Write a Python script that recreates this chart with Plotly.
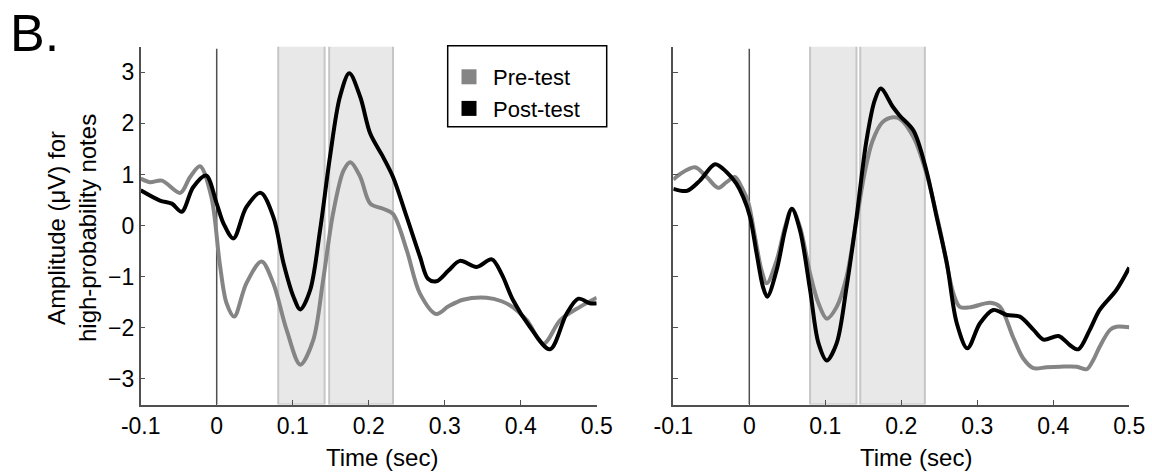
import plotly.graph_objects as go

# ---------------- data ----------------
X_TICKS = [-0.1, 0, 0.1, 0.2, 0.3, 0.4, 0.5]
X_TICK_LABELS = ["-0.1", "0", "0.1", "0.2", "0.3", "0.4", "0.5"]
Y_TICKS = [-3, -2, -1, 0, 1, 2, 3]
Y_TICK_LABELS = ["\u22123", "\u22122", "\u22121", "0", "1", "2", "3"]

SERIES_NAMES = ["Pre-test", "Post-test"]

# Left panel, pre-test (grey)
L_PRE_T = [-0.1, -0.088, -0.072, -0.048, -0.035, -0.022, -0.007, 0.004, 0.013, 0.023, 0.039,
           0.059, 0.0745, 0.092, 0.110, 0.127, 0.140, 0.153, 0.167, 0.176, 0.189, 0.202,
           0.219, 0.232, 0.25, 0.2675, 0.289, 0.305, 0.324, 0.355, 0.375, 0.39, 0.408,
           0.43, 0.452, 0.478, 0.5]
L_PRE_V = [0.92, 0.85, 0.88, 0.64, 0.95, 1.16, 0.56, -0.74, -1.52, -1.78, -1.13,
           -0.70, -1.13, -2.04, -2.72, -2.24, -1.07, 0.23, 1.08, 1.24, 0.95, 0.43,
           0.33, 0.23, -0.48, -1.33, -1.73, -1.58, -1.45, -1.41, -1.48, -1.60, -1.85,
           -2.31, -1.85, -1.59, -1.41]

# Left panel, post-test (black)
L_POST_T = [-0.1, -0.0746, -0.059, -0.046, -0.031, -0.014, 0.0, 0.009, 0.022, 0.039, 0.058,
            0.0745, 0.088, 0.101, 0.110, 0.123, 0.136, 0.149, 0.162, 0.1745, 0.189, 0.202,
            0.219, 0.232, 0.25, 0.2675, 0.278, 0.289, 0.305, 0.320, 0.342, 0.362, 0.375,
            0.390, 0.412, 0.4385, 0.4605, 0.476, 0.491, 0.5]
L_POST_V = [0.69, 0.49, 0.43, 0.27, 0.75, 0.98, 0.43, 0.04, -0.25, 0.36, 0.64,
            0.17, -0.74, -1.39, -1.64, -1.26, -0.09, 1.34, 2.51, 2.98, 2.51, 1.80,
            1.34, 0.95, 0.17, -0.61, -1.04, -1.09, -0.88, -0.69, -0.81, -0.66, -0.95,
            -1.46, -1.98, -2.42, -1.72, -1.43, -1.52, -1.52]

# Right panel, pre-test (grey)
R_PRE_T = [-0.1, -0.091, -0.0715, -0.056, -0.041, -0.030, -0.019, -0.010, -0.001, 0.0075,
           0.016, 0.023, 0.036, 0.047, 0.056, 0.0667, 0.080, 0.091, 0.102, 0.115, 0.128,
           0.141, 0.152, 0.162, 0.175, 0.189, 0.198, 0.216, 0.233, 0.251, 0.2686, 0.277,
           0.290, 0.317, 0.33, 0.347, 0.3605, 0.374, 0.391, 0.409, 0.431, 0.444, 0.4526,
           0.461, 0.4746, 0.483, 0.5]
R_PRE_V = [0.90, 1.01, 1.14, 0.95, 0.74, 0.85, 0.95, 0.75, 0.43, -0.22,
           -0.87, -1.13, -0.68, -0.03, 0.33, -0.03, -0.94, -1.52, -1.82, -1.59, -1.00,
           0.10, 1.05, 1.65, 2.02, 2.12, 2.09, 1.73, 1.02, -0.09, -1.33, -1.59,
           -1.60, -1.51, -1.59, -2.18, -2.60, -2.79, -2.77, -2.76, -2.76, -2.81, -2.63,
           -2.37, -2.04, -1.98, -1.99]

# Right panel, post-test (black)
R_POST_T = [-0.1, -0.082, -0.065, -0.045, -0.030, -0.017, -0.008, 0.001, 0.0097, 0.018,
            0.0237, 0.036, 0.047, 0.056, 0.0667, 0.080, 0.091, 0.102, 0.115, 0.128, 0.141,
            0.154, 0.165, 0.173, 0.189, 0.198, 0.216, 0.233, 0.2465, 0.26, 0.273, 0.287,
            0.3035, 0.321, 0.339, 0.356, 0.374, 0.387, 0.407, 0.422, 0.433, 0.448, 0.461,
            0.483, 0.5]
R_POST_V = [0.72, 0.68, 0.88, 1.20, 1.05, 0.82, 0.56, 0.17, -0.55, -1.20,
            -1.39, -0.87, -0.09, 0.33, -0.09, -1.26, -2.30, -2.64, -2.30, -1.20, 0.15,
            1.65, 2.45, 2.68, 2.32, 2.15, 1.86, 1.08, 0.17, -0.74, -1.91, -2.40,
            -1.91, -1.65, -1.75, -1.78, -2.04, -2.23, -2.16, -2.34, -2.42, -2.04, -1.65,
            -1.26, -0.82]

# analysis windows (sec)
L_WINDOWS = [(0.081, 0.142), (0.148, 0.232)]
R_WINDOWS = [(0.080, 0.141), (0.146, 0.231)]

# ---------------- styling ----------------
FONT = "Liberation Sans, Arial, Helvetica, sans-serif"
GREY = "#858585"
BLACK = "#000000"
AXIS = "#505050"
W, H = 1152, 474

fig = go.Figure()

panels = [("x", "y", L_PRE_T, L_PRE_V, L_POST_T, L_POST_V),
          ("x2", "y2", R_PRE_T, R_PRE_V, R_POST_T, R_POST_V)]
for xa, ya, pt, pv, qt, qv in panels:
    fig.add_trace(go.Scatter(x=pt, y=pv, xaxis=xa, yaxis=ya, mode="lines",
                             line=dict(color=GREY, width=4, shape="spline", smoothing=0.9),
                             showlegend=False, hoverinfo="skip"))
    fig.add_trace(go.Scatter(x=qt, y=qv, xaxis=xa, yaxis=ya, mode="lines",
                             line=dict(color=BLACK, width=4, shape="spline", smoothing=0.9),
                             showlegend=False, hoverinfo="skip"))

# legend entries (square patches)
for name, col in zip(SERIES_NAMES, [GREY, BLACK]):
    fig.add_trace(go.Scatter(x=[None], y=[None], mode="markers", name=name,
                             marker=dict(symbol="square", size=15, color=col,
                                         line=dict(width=0))))

shapes = []
for xr, yr, wins in [("x", "y", L_WINDOWS), ("x2", "y2", R_WINDOWS)]:
    for a, b in wins:
        shapes.append(dict(type="rect", xref=xr, yref=yr, x0=a, x1=b, y0=-3.5, y1=3.54,
                           fillcolor="#e8e8e8", line=dict(color="#c6c6c6", width=2),
                           layer="below"))
    shapes.append(dict(type="line", xref=xr, yref=yr, x0=0, x1=0, y0=-3.5, y1=3.46,
                       line=dict(color=AXIS, width=1.5), layer="below"))
# legend frame
shapes.append(dict(type="rect", xref="paper", yref="paper",
                   x0=447.7 / W, x1=606.7 / W, y0=1 - 126.7 / H, y1=1 - 45.7 / H,
                   fillcolor="white", line=dict(color="black", width=1.5), layer="below"))

axis_common = dict(showline=True, linecolor=AXIS, linewidth=1.5, ticks="inside",
                   ticklen=5, tickwidth=1.2, tickcolor=AXIS, showgrid=False,
                   zeroline=False, mirror=False, automargin=False,
                   tickfont=dict(family=FONT, size=23, color="black"))

fig.update_layout(
    width=W, height=H,
    margin=dict(l=0, r=0, t=0, b=0, pad=0, autoexpand=False),
    paper_bgcolor="white", plot_bgcolor="rgba(0,0,0,0)",
    font=dict(family=FONT, color="black"),
    shapes=shapes,
    xaxis=dict(domain=[140.7 / W, 596.7 / W], range=[-0.1, 0.5], anchor="y",
               tickvals=X_TICKS, ticktext=X_TICK_LABELS, **axis_common),
    yaxis=dict(domain=[1 - 404.5 / H, 1 - 46.7 / H], range=[-3.5, 3.5], anchor="x",
               tickvals=Y_TICKS, ticktext=Y_TICK_LABELS, **axis_common),
    xaxis2=dict(domain=[673.3 / W, 1129.3 / W], range=[-0.1, 0.5], anchor="y2",
                tickvals=X_TICKS, ticktext=X_TICK_LABELS, **axis_common),
    yaxis2=dict(domain=[1 - 404.5 / H, 1 - 46.7 / H], range=[-3.5, 3.5], anchor="x2",
                tickvals=Y_TICKS, showticklabels=False, **axis_common),
    legend=dict(x=445 / W, y=1 - 56 / H, xanchor="left", yanchor="top",
                bgcolor="rgba(0,0,0,0)", borderwidth=0,
                font=dict(family=FONT, size=22, color="black"),
                itemwidth=38, tracegroupgap=0),
    annotations=[
        dict(text="B.", x=8 / W, y=1 - 33.5 / H, xref="paper", yref="paper",
             xanchor="left", yanchor="middle", showarrow=False,
             font=dict(family=FONT, size=52, color="black")),
        dict(text="Amplitude (\u03bcV) for<br>high-probability notes",
             x=72 / W, y=1 - 228 / H, xref="paper", yref="paper", textangle=-90,
             xanchor="center", yanchor="middle", showarrow=False,
             font=dict(family=FONT, size=24, color="black")),
        dict(text="Time (sec)", x=381.7 / W, y=1 - 457 / H, xref="paper", yref="paper",
             xanchor="center", yanchor="middle", showarrow=False,
             font=dict(family=FONT, size=24, color="black")),
        dict(text="Time (sec)", x=916 / W, y=1 - 457 / H, xref="paper", yref="paper",
             xanchor="center", yanchor="middle", showarrow=False,
             font=dict(family=FONT, size=24, color="black")),
    ],
)

fig.write_html("out.html")
